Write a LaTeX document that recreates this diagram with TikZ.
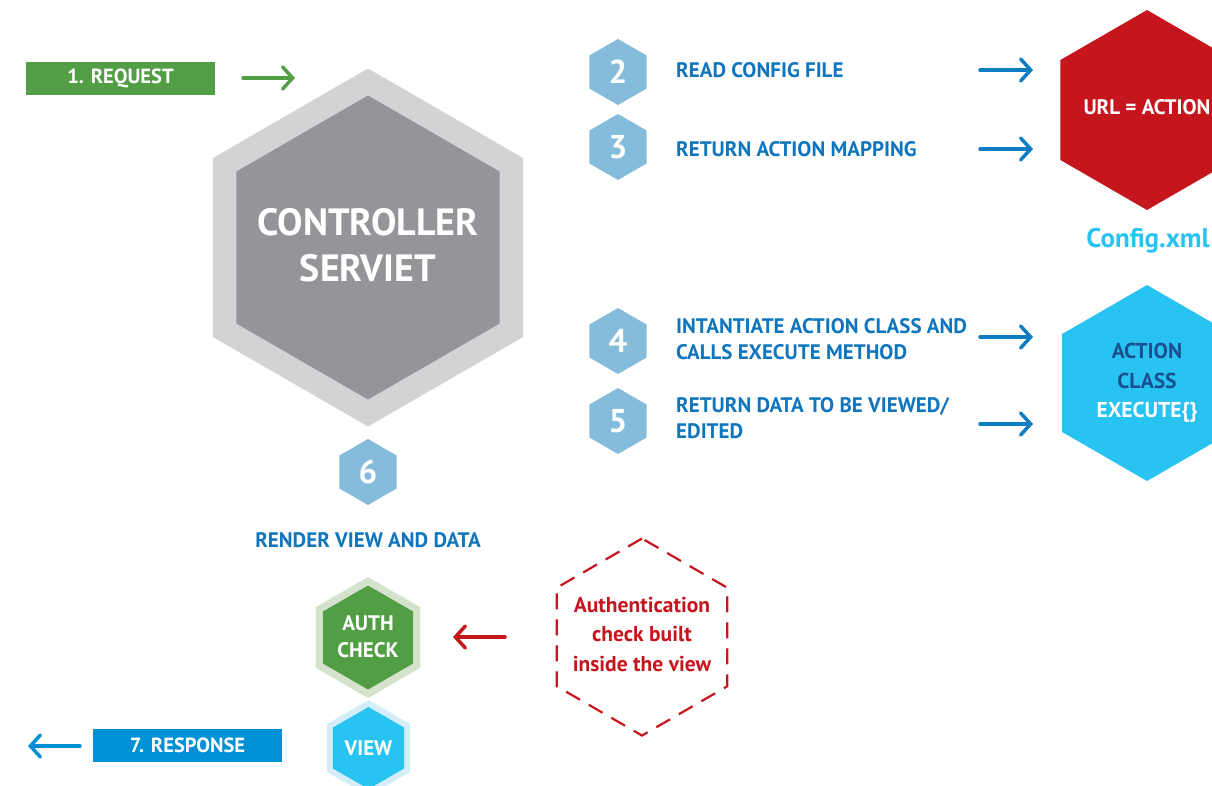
\documentclass[tikz,border=0pt]{standalone}
\usepackage{fontspec}
\setmainfont{PT Sans}
\usetikzlibrary{shapes.geometric, arrows.meta}

\definecolor{ctrlgrey}{HTML}{939598}
\definecolor{ctrlhalo}{HTML}{D1D3D4}
\definecolor{stepblue}{HTML}{85BCDB}
\definecolor{textblue}{HTML}{0F75BC}
\definecolor{arrowblue}{HTML}{0C7DC1}
\definecolor{cyanblue}{HTML}{29C3F2}
\definecolor{darkblue}{HTML}{1A4F91}
\definecolor{respblue}{HTML}{0090D6}
\definecolor{urlred}{HTML}{C5161D}
\definecolor{okgreen}{HTML}{529E45}
\definecolor{greenhalo}{HTML}{D5E3CC}
\definecolor{cyanhalo}{HTML}{D3EEF9}

\begin{document}
\begin{tikzpicture}
  [
    x=1pt, y=-1pt,
    font=\bfseries,
    hex/.style =
      {regular polygon, regular polygon sides=6, shape border rotate=30,
       inner sep=0pt, align=center},
    hextext/.style =
      {align=center, inner sep=0pt},
    stephex/.style =
      {hex, fill=stepblue, text=white, minimum size=66pt,
       font=\bfseries\fontsize{33}{33}\selectfont},
    steptext/.style =
      {anchor=west, align=left, text=textblue, inner sep=0pt,
       font=\bfseries\fontsize{21}{26}\selectfont},
    tagbox/.style =
      {rectangle, text=white, minimum width=189pt, minimum height=33pt,
       inner sep=0pt, font=\bfseries\fontsize{20.5}{20.5}\selectfont},
    farrow/.style =
      {-{Straight Barb[length=10pt, width=22pt, line cap=round]},
       line width=3.5pt, line cap=round}
  ]
  \useasboundingbox (0,0) rectangle (1212,785);

  % controller
  \node [hex, fill=ctrlhalo, minimum size=358pt] at (368,247.5) (ctrlo) {};
  \node [hex, fill=ctrlgrey, minimum size=304pt] at (368,247.5) (ctrl) {};
  \node [hextext, text=white, font=\bfseries\fontsize{38}{46}\selectfont]
        at (368,245) (ctrltext) {CONTROLLER\\SERVIET};

  % request / response
  \node [tagbox, fill=okgreen] at (120.5,78.5) (req) {1. REQUEST};
  \coordinate (reqa) at (243,78);
  \coordinate (reqb) at (295,78);
  \draw [farrow, okgreen] (reqa) -- (reqb);

  \node [tagbox, fill=respblue] at (187.5,745.5) (resp) {7. RESPONSE};
  \coordinate (respa) at (80,746);
  \coordinate (respb) at (28,746);
  \draw [farrow, respblue] (respa) -- (respb);

  % steps
  \node [stephex] at (618,72)  (s2) {2};
  \node [stephex] at (618,147) (s3) {3};
  \node [stephex] at (618,341) (s4) {4};
  \node [stephex] at (618,421) (s5) {5};
  \node [stephex] at (368,472) (s6) {6};

  \node [steptext] at (676,70)  (t2) {READ CONFIG FILE};
  \node [steptext] at (676,149) (t3) {RETURN ACTION MAPPING};
  \node [steptext] at (676,339) (t4) {INTANTIATE ACTION CLASS AND\\CALLS EXECUTE METHOD};
  \node [steptext] at (676,418) (t5) {RETURN DATA TO BE VIEWED/\\EDITED};
  \node [steptext, anchor=center] at (368,540) (t6) {RENDER VIEW AND DATA};

  \foreach \y/\n in {70/a, 149/b, 337/c, 424/d}
  {
    \coordinate (\n1) at (980,\y);
    \coordinate (\n2) at (1033,\y);
    \draw [farrow, arrowblue] (\n1) -- (\n2);
  }

  % config and action
  \node [hex, fill=urlred, minimum size=200pt] at (1147,110) (url) {};
  \node [hextext, text=white, font=\bfseries\fontsize{21}{21}\selectfont]
        at (1147,107) (urltext) {URL = ACTION};
  \node [text=cyanblue, font=\bfseries\fontsize{27}{27}\selectfont]
        at (1148,241) (cfg) {Config.xml};
  \node [hex, fill=cyanblue, minimum size=196pt] at (1147,383) (act) {};
  \node [hextext, text=darkblue, font=\bfseries\fontsize{21.5}{29.5}\selectfont]
        at (1147,383) (acttext) {ACTION\\CLASS\\\textcolor{white}{EXECUTE\{\}}};

  % view side
  \node [hex, fill=greenhalo, minimum size=121pt] at (368,637.5) (autho) {};
  \node [hex, fill=okgreen, minimum size=104pt] at (368,637.5) (auth) {};
  \node [hextext, text=white, font=\bfseries\fontsize{21}{27}\selectfont]
        at (368,637) (authtext) {AUTH\\CHECK};
  \node [hex, fill=cyanhalo, minimum size=96pt] at (368.5,748) (viewo) {};
  \node [hex, fill=cyanblue, minimum size=82pt] at (368.5,748) (view) {};
  \node [hextext, text=white, font=\bfseries\fontsize{21}{21}\selectfont]
        at (368.5,748) (viewtext) {VIEW};

  \node [hex, draw=urlred, line width=2.2pt, dash pattern=on 16pt off 10pt,
         minimum size=197pt] at (642,637) (note) {};
  \node [hextext, text=urlred, font=\bfseries\fontsize{21.5}{29.5}\selectfont]
        at (642,634) (notetext) {Authentication\\check built\\inside the view};
  \coordinate (notea) at (505,637);
  \coordinate (noteb) at (453,637);
  \draw [farrow, urlred] (notea) -- (noteb);
\end{tikzpicture}
\end{document}
